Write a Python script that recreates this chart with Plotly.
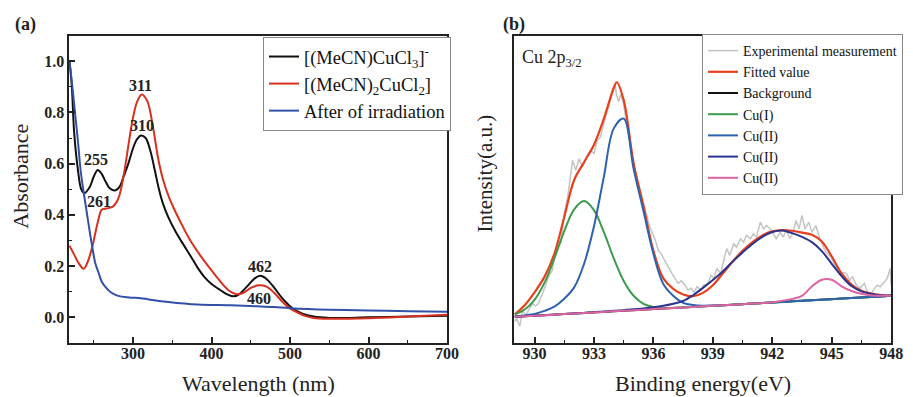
import plotly.graph_objects as go
import numpy as np

# ---------------- Panel (a): UV-vis absorbance ----------------
wl_cucl3 = [219, 222, 225, 230, 234, 238, 245, 250, 255, 260, 265, 270, 277, 283, 288, 294, 300, 305, 310,
            316, 322, 328, 333, 338, 345, 355, 365, 374, 382, 391, 400, 412, 420, 428, 435, 445, 455, 462,
            470, 480, 490, 504, 515, 530, 550, 600, 650, 700]
abs_cucl3 = [1.0, 0.9, 0.72, 0.57, 0.50, 0.485, 0.51, 0.55, 0.575, 0.56, 0.53, 0.505, 0.495, 0.51, 0.55, 0.60,
             0.66, 0.695, 0.71, 0.70, 0.65, 0.57, 0.50, 0.445, 0.39, 0.33, 0.28, 0.236, 0.195, 0.157, 0.13,
             0.105, 0.09, 0.082, 0.09, 0.12, 0.152, 0.162, 0.15, 0.115, 0.075, 0.033, 0.015, 0.003, -0.002,
             0.0, 0.003, 0.006]

wl_cucl2 = [219, 225, 230, 237, 242, 248, 252, 256, 260, 266, 273, 278, 282, 286, 290, 295, 300, 305, 311,
            318, 325, 332, 338, 345, 352, 360, 372, 386, 397, 408, 422, 432, 440, 450, 460, 470, 480, 490,
            500, 510, 520, 530, 550, 600, 650, 700]
abs_cucl2 = [0.28, 0.245, 0.215, 0.19, 0.215, 0.275, 0.33, 0.383, 0.42, 0.425, 0.43, 0.445, 0.47, 0.52, 0.59,
             0.69, 0.78, 0.84, 0.87, 0.845, 0.75, 0.62, 0.54, 0.475, 0.425, 0.375, 0.305, 0.24, 0.195, 0.152,
             0.105, 0.09, 0.095, 0.115, 0.125, 0.12, 0.095, 0.062, 0.035, 0.018, 0.005, -0.002, -0.005,
             -0.003, 0.003, 0.01]

wl_irr = [219, 222, 226, 230, 233, 236, 240, 244, 248, 252, 256, 260, 265, 272, 281, 295, 310, 320, 345,
          382, 424, 458, 480, 500, 550, 600, 650, 700]
abs_irr = [1.0, 0.92, 0.80, 0.68, 0.58, 0.51, 0.43, 0.35, 0.275, 0.21, 0.175, 0.14, 0.118, 0.097, 0.084,
           0.078, 0.075, 0.07, 0.06, 0.05, 0.047, 0.043, 0.04, 0.036, 0.03, 0.027, 0.024, 0.022]

peak_labels_a = ["311", "310", "255", "261", "462", "460"]
peak_label_x_a = [310, 311, 253, 256, 462, 461]
peak_label_y_a = [0.905, 0.748, 0.615, 0.451, 0.199, 0.072]

# ---------------- Panel (b): XPS Cu 2p3/2 ----------------
be_grid = [929.0, 929.5, 930.0, 930.5, 931.0, 931.5, 932.0, 932.5, 933.0, 933.5, 934.0, 934.5, 935.0,
           935.5, 936.0, 936.5, 937.0, 937.5, 938.0, 938.5, 939.0, 939.5, 940.0, 940.5, 941.0, 941.5,
           942.0, 942.5, 943.0, 943.5, 944.0, 944.5, 945.0, 945.5, 946.0, 946.5, 947.0, 947.5, 948.0]
background = [8.50, 8.68, 8.86, 9.04, 9.22, 9.40, 9.58, 9.76, 9.94, 10.12, 10.30, 10.48, 10.66, 10.84,
              11.02, 11.20, 11.38, 11.56, 11.74, 11.92, 12.10, 12.28, 12.46, 12.64, 12.82, 13.00, 13.18,
              13.36, 13.54, 13.72, 13.90, 14.08, 14.26, 14.44, 14.62, 14.80, 14.98, 15.16, 15.34]
cu1 = [0.8, 2.2, 5.2, 10.5, 18.3, 27.0, 33.9, 36.4, 33.3, 25.9, 17.2, 9.7, 4.7, 1.9, 0.7, 0.2, 0.05, 0, 0,
       0, 0, 0, 0, 0, 0, 0, 0, 0, 0, 0, 0, 0, 0, 0, 0, 0, 0, 0, 0]
cu2_a = [0.1, 0.3, 0.6, 1.4, 2.6, 5.0, 8.5, 16.0, 28.0, 44.0, 59.5, 62.5, 46.0, 32.0, 18.0, 8.0, 4.0, 1.5,
         0.6, 0.2, 0.1, 0, 0, 0, 0, 0, 0, 0, 0, 0, 0, 0, 0, 0, 0, 0, 0, 0, 0]
cu2_b = [0, 0, 0, 0, 0, 0, 0, 0, 0.1, 0.1, 0.2, 0.2, 0.3, 0.4, 0.6, 0.9, 1.4, 2.1, 3.8, 6.0, 8.4, 11.0,
         14.0, 16.8, 19.4, 21.5, 22.9, 23.2, 22.2, 20.8, 18.9, 15.8, 11.5, 7.3, 3.9, 2.0, 1.0, 0.4, 0.1]
cu2_c = [0, 0, 0, 0, 0, 0, 0, 0, 0, 0, 0, 0, 0, 0, 0, 0, 0, 0, 0, 0, 0, 0, 0, 0, 0, 0, 0.1, 0.4, 0.8,
         1.6, 4.5, 6.5, 6.3, 4.0, 2.3, 1.2, 0.5, 0.2, 0.0]

fit_be = [929.0, 929.5, 930.0, 930.5, 931.0, 931.5, 932.0, 932.5, 933.0, 933.5, 934.0, 934.15, 934.5,
          935.0, 935.5, 936.0, 936.5, 937.0, 937.5, 938.0, 938.5, 939.0, 939.5, 940.0, 940.5, 941.0,
          941.5, 942.0, 942.5, 943.0, 943.5, 944.0, 944.5, 945.0, 945.5, 946.0, 946.5, 947.0, 947.5, 948.0]
fitted = [9.3, 12.3, 16.5, 21.5, 29.0, 41.0, 53.0, 58.8, 64.5, 73.0, 83.0, 84.8, 79.0, 58.5, 44.5, 30.0,
          21.0, 17.6, 15.8, 15.2, 16.3, 18.8, 22.6, 26.5, 30.0, 32.8, 35.0, 36.3, 36.7, 36.5, 35.9, 35.2,
          33.0, 28.2, 22.6, 19.0, 17.0, 16.1, 15.6, 15.3]

exp_be = [929.0, 929.1, 929.25, 929.4, 929.55, 929.7, 929.9, 930.05, 930.2, 930.4, 930.55, 930.7, 930.9,
          931.05, 931.17, 931.33, 931.5, 931.67, 931.78, 931.92, 932.08, 932.25, 932.42, 932.62, 932.83,
          933.0, 933.17, 933.33, 933.5, 933.7, 933.9, 934.05, 934.15, 934.25, 934.35, 934.5, 934.65,
          934.8, 935.0, 935.15, 935.3, 935.5, 935.65, 935.8, 935.95, 936.1, 936.25, 936.4, 936.55, 936.7,
          936.8, 936.95, 937.1, 937.25, 937.4, 937.6, 937.75, 937.9, 938.05, 938.2, 938.4, 938.55, 938.65,
          938.8, 938.9, 939.05, 939.2, 939.4, 939.55, 939.7, 939.85, 940.05, 940.2, 940.4, 940.55, 940.7,
          940.9, 941.05, 941.2, 941.4, 941.55, 941.7, 941.9, 942.05, 942.2, 942.4, 942.55, 942.7, 942.9,
          943.05, 943.2, 943.35, 943.5, 943.65, 943.85, 944.0, 944.2, 944.4, 944.55, 944.7, 944.95, 945.1,
          945.25, 945.5, 945.75, 945.9, 946.05, 946.25, 946.4, 946.65, 946.8, 946.95, 947.1, 947.3,
          947.45, 947.6, 947.8, 947.95, 948.0]
exp_int = [7.0, 8.0, 5.4, 10.7, 9.0, 10.5, 12.9, 12.0, 12.8, 16.0, 18.5, 21.4, 23.7, 28.5, 33.4, 32.3,
           42.1, 47.4, 52.9, 59.4, 56.2, 59.9, 57.2, 60.5, 62.6, 61.6, 65.9, 67.0, 71.5, 76.0, 81.0, 84.0,
           80.5, 78.5, 81.0, 77.5, 71.0, 65.0, 58.5, 54.0, 50.5, 46.0, 42.0, 38.0, 35.5, 33.4, 30.0, 29.0,
           27.0, 25.5, 24.2, 22.5, 21.0, 19.4, 20.2, 18.8, 17.2, 17.9, 16.5, 18.3, 17.2, 19.0, 18.8, 20.2,
           22.0, 21.0, 24.2, 22.6, 26.9, 30.7, 28.5, 32.3, 31.2, 33.9, 32.8, 35.0, 33.9, 35.5, 34.4, 39.3,
           37.1, 38.2, 37.1, 35.5, 33.9, 36.0, 34.4, 36.6, 33.9, 36.0, 39.8, 37.1, 41.5, 37.1, 39.3, 36.0,
           38.2, 33.9, 31.8, 29.6, 28.0, 25.9, 24.2, 23.1, 22.6, 20.4, 21.5, 18.8, 17.7, 19.4, 16.6, 15.0,
           17.2, 18.8, 18.3, 19.4, 21.0, 24.2, 19.0]

# ---------------- figure ----------------
W, H = 913, 397
SERIF = "Liberation Serif, Times New Roman, serif"


def px(x):
    return x / W


def py(y):
    return 1 - y / H


fig = go.Figure()

# panel (a)
fig.add_trace(go.Scatter(x=wl_cucl3, y=abs_cucl3, mode="lines", line=dict(color="#111111", width=2, shape="spline"),
                         name="[(MeCN)CuCl<sub>3</sub>]<sup>-</sup>", xaxis="x", yaxis="y", legend="legend"))
fig.add_trace(go.Scatter(x=wl_cucl2, y=abs_cucl2, mode="lines", line=dict(color="#d7301f", width=2, shape="spline"),
                         name="[(MeCN)<sub>2</sub>CuCl<sub>2</sub>]", xaxis="x", yaxis="y", legend="legend"))
fig.add_trace(go.Scatter(x=wl_irr, y=abs_irr, mode="lines", line=dict(color="#3350a8", width=2, shape="spline"),
                         name="After of irradiation", xaxis="x", yaxis="y", legend="legend"))

# panel (b)
bg = np.array(background)
fig.add_trace(go.Scatter(x=exp_be, y=exp_int, mode="lines", line=dict(color="#c4c4c4", width=1.5),
                         name="Experimental measurement", xaxis="x2", yaxis="y2", legend="legend2"))
fig.add_trace(go.Scatter(x=fit_be, y=fitted, mode="lines", line=dict(color="#e8401c", width=2.2, shape="spline"),
                         name="Fitted value", xaxis="x2", yaxis="y2", legend="legend2"))
fig.add_trace(go.Scatter(x=be_grid, y=background, mode="lines", line=dict(color="#111111", width=2),
                         name="Background", xaxis="x2", yaxis="y2", legend="legend2"))
fig.add_trace(go.Scatter(x=be_grid, y=bg + np.array(cu1), mode="lines", line=dict(color="#3d9b4c", width=2, shape="spline"),
                         name="Cu(I)", xaxis="x2", yaxis="y2", legend="legend2"))
fig.add_trace(go.Scatter(x=be_grid, y=bg + np.array(cu2_a), mode="lines", line=dict(color="#2d62ad", width=2, shape="spline"),
                         name="Cu(II)", xaxis="x2", yaxis="y2", legend="legend2"))
fig.add_trace(go.Scatter(x=be_grid, y=bg + np.array(cu2_b), mode="lines", line=dict(color="#2a3592", width=2, shape="spline"),
                         name="Cu(II) ", xaxis="x2", yaxis="y2", legend="legend2"))
fig.add_trace(go.Scatter(x=be_grid, y=bg + np.array(cu2_c), mode="lines", line=dict(color="#dc64a0", width=2, shape="spline"),
                         name="Cu(II)  ", xaxis="x2", yaxis="y2", legend="legend2"))

tickfont = dict(family=SERIF, size=16, color="#222", weight="bold")
ydom = [py(343), py(35.5)]

common_axis = dict(showline=True, linecolor="#222", linewidth=1.5, mirror=True, showgrid=False,
                   zeroline=False, ticks="inside", ticklen=6, tickwidth=1.5, tickcolor="#222")

fig.update_layout(
    width=W, height=H,
    margin=dict(l=0, r=0, t=0, b=0),
    paper_bgcolor="white", plot_bgcolor="white",
    font=dict(family=SERIF, color="#222"),
    xaxis=dict(domain=[px(70), px(453)], range=[218.5, 700], anchor="y",
               tickvals=[300, 400, 500, 600, 700], tickfont=tickfont, ticklabelstandoff=-5,
               minor=dict(tickvals=[250, 350, 450, 550, 650], ticks="inside", ticklen=3.5, tickwidth=1.2,
                          tickcolor="#222"),
               **common_axis),
    yaxis=dict(domain=ydom, range=[-0.1, 1.1], anchor="x",
               tickvals=[0.0, 0.2, 0.4, 0.6, 0.8, 1.0], ticktext=["0.0", "0.2", "0.4", "0.6", "0.8", "1.0"],
               tickfont=tickfont,
               minor=dict(tickvals=[-0.1, 0.1, 0.3, 0.5, 0.7, 0.9], ticks="inside", ticklen=3.5, tickwidth=1.2,
                          tickcolor="#222"),
               **common_axis),
    xaxis2=dict(domain=[px(521), px(903)], range=[928.97, 948], anchor="y2",
                tickvals=[930, 933, 936, 939, 942, 945, 948], tickfont=tickfont, ticklabelstandoff=-5,
                minor=dict(tickvals=[931.5, 934.5, 937.5, 940.5, 943.5, 946.5], ticks="inside", ticklen=3.5,
                           tickwidth=1.2, tickcolor="#222"),
                **common_axis),
    yaxis2=dict(domain=ydom, range=[0, 100], anchor="x2", showticklabels=False,
                showline=True, linecolor="#222", linewidth=1.5, mirror=True, showgrid=False,
                zeroline=False, ticks=""),
    legend=dict(x=px(457), xanchor="right", y=py(37), yanchor="top",
                bgcolor="white", bordercolor="#888", borderwidth=1,
                font=dict(family=SERIF, size=18.5, color="#111"), itemwidth=30,
                tracegroupgap=0),
    legend2=dict(x=px(915), xanchor="right", y=py(34), yanchor="top",
                 bgcolor="white", bordercolor="#888", borderwidth=1,
                 font=dict(family=SERIF, size=14, color="#111"), itemwidth=30,
                 tracegroupgap=0),
    showlegend=True,
)

annotations = []
for t, xv, yv in zip(peak_labels_a, peak_label_x_a, peak_label_y_a):
    annotations.append(dict(x=xv, y=yv, xref="x", yref="y", text=t, showarrow=False,
                            xanchor="center", yanchor="middle",
                            font=dict(family=SERIF, size=16, color="#222", weight="bold")))


def paper_text(x, y, text, size, angle=0, weight="normal", xanchor="center"):
    return dict(x=px(x), y=py(y), xref="paper", yref="paper", text=text, textangle=angle,
                showarrow=False, xanchor=xanchor, yanchor="middle",
                font=dict(family=SERIF, size=size, color="#222", weight=weight))


annotations += [
    paper_text(26, 25, "(a)", 18, weight="bold"),
    paper_text(521, 25, "(b)", 18, weight="bold"),
    paper_text(20, 176, "Absorbance", 22, angle=-90),
    paper_text(262, 383, "Wavelength (nm)", 22),
    paper_text(491, 174, "Intensity(a.u.)", 21, angle=-90),
    paper_text(712, 383, "Binding energy(eV)", 22),
    paper_text(527, 59, "Cu 2p<sub>3/2</sub>", 18, xanchor="left"),
]
fig.update_layout(annotations=annotations)

fig.write_html("out.html", config={"displayModeBar": False},
               post_script="document.body.style.margin='0px';document.body.style.padding='0px';"
                           "document.body.style.overflow='hidden';")
